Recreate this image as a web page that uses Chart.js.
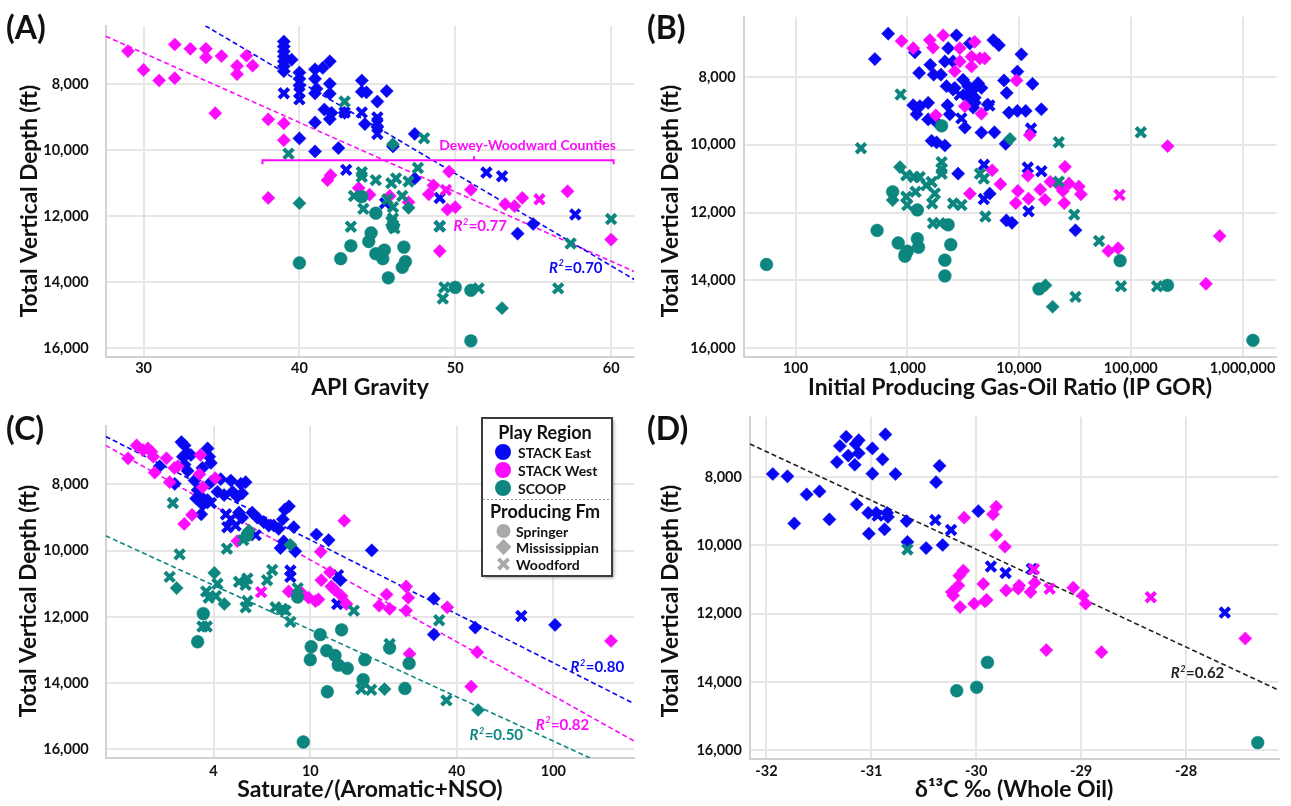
<!DOCTYPE html>
<html>
<head>
<meta charset="utf-8">
<script src="https://cdn.jsdelivr.net/npm/chart.js@4.4.1/dist/chart.umd.min.js"></script>
<style>
html,body{margin:0;padding:0;background:#fff;}
#wrap{position:relative;width:1291px;height:806px;overflow:hidden;background:#fff;}
canvas{position:absolute;display:block;}
</style>
</head>
<body>
<div id="wrap">
<canvas id="cA" width="645" height="400" style="left:0;top:0"></canvas>
<canvas id="cB" width="646" height="400" style="left:645px;top:0"></canvas>
<canvas id="cC" width="645" height="406" style="left:0;top:400px"></canvas>
<canvas id="cD" width="646" height="406" style="left:645px;top:400px"></canvas>
</div>
<script>
// ---------------- DATA ----------------
const REGIONS = ['STACK East','STACK West','SCOOP'];
const FORMATIONS = ['Springer','Mississippian','Woodford'];
const Y_TICKS = [8000,10000,12000,14000,16000];
const A_X_TICKS = [30,40,50,60];
const B_X_TICKS = [100,1000,10000,100000,1000000];
const C_X_TICKS = [4,10,40,100];
const D_X_TICKS = [-32,-31,-30,-29,-28];

// Panel A: API gravity vs depth
const A_EAST_MISS = [[39,6700],[39,6850],[39,7000],[39,7150],[39,7300],[39,7450],[39,7600],[39.5,7250],[40,7640],[40,7830],[40,8030],[41,7540],[41.5,7500],[41.95,7300],[41,7830],[41.1,8130],[41,8270],[41.95,7980],[41.95,8280],[41.6,8760],[42.06,8860],[41.95,9050],[41,9150],[40,9635],[41,10030],[42.5,9930],[42.9,8860],[44,7880],[44,8220],[44.3,8240],[45,8520],[45.6,8200],[44.2,9200],[45,9290],[47.4,9500],[46,9880],[47.4,10850],[54,12520],[55,12230]];
const A_EAST_WOOD = [[39,8270],[40,8250],[40,8450],[42.9,8850],[44,8850],[45,9000],[45,9150],[45,9500],[43,10590],[45.5,11600],[49,11440],[49,12300],[52,10670],[53,10780],[57.7,11940]];
const A_WEST_MISS = [[29,6990],[30,7560],[31,7880],[32,6790],[32,7810],[33,6920],[34,6920],[34,7180],[35,7140],[36,7440],[36,7690],[36.6,7130],[37,7430],[34.6,8870],[38,9060],[39,9180],[39,9690],[38,11440],[42,10750],[41.8,10900],[43.8,11140],[44.5,11340],[45.8,11380],[47,11570],[48.3,11330],[48.6,11060],[49.6,10640],[49.5,11790],[50,11720],[51,11190],[53.2,11630],[53.8,11690],[54.3,11440],[57.2,11240],[60,12700],[49,13050]];
const A_WEST_WOOD = [[49.4,11200],[55.4,11480]];
const A_SCOOP_SPR = [[44,11400],[44.9,11900],[46,12300],[44.6,12500],[44.45,12760],[43.3,12890],[42.65,13280],[44.9,13130],[45.45,13020],[45.35,13280],[46.7,12930],[46.8,13370],[46.6,13540],[45.7,13860],[40,13410],[50,14150],[51,14240],[51,15770]];
const A_SCOOP_MISS = [[40,11600],[47,11740],[53,14780],[46,9810]];
const A_SCOOP_WOOD = [[39.3,10100],[44,10660],[44,10800],[44.9,10900],[45.9,10990],[46.2,10850],[47,10940],[47.6,10530],[43.5,11380],[44.1,11770],[45.65,11480],[46,11720],[46.6,11380],[46,12060],[43.3,12310],[49.3,14150],[49.2,14490],[51.5,14180],[56.6,14180],[57.4,12820],[60,12080],[42.9,8520],[48,9630],[45.9,12160],[46.1,12360],[49,12300]];
const A_TREND_EAST = [[33.96,6220],[61.48,13910]];
const A_TREND_WEST = [[27.57,6540],[61.48,13670]];
const A_R2 = [{x:51.6,y:12280,v:'0.77',r:'STACK West'},{x:57.73,y:13540,v:'0.70',r:'STACK East'}];
const A_BRACKET = {from:37.63,to:60.16,mid:51.2,depth:10300,label:'Dewey-Woodward Counties',labelX:54.64,labelY:9864};

// Panel B: IP GOR vs depth
const B_EAST_MISS = [[675,6720],[513,7470],[1170,7270],[1607,7640],[1276,7880],[1722,7930],[2755,6770],[2323,7150],[2572,7540],[2170,7540],[3625,7010],[5888,6910],[6610,7060],[10500,7330],[9660,7840],[13200,8200],[7340,8100],[7760,8470],[15850,8950],[8130,9050],[9660,9000],[11480,9000],[1297,8860],[1538,8760],[1130,8830],[1211,9100],[1538,9250],[1830,9340],[2290,8830],[2400,9100],[3275,9490],[4610,9640],[3880,8900],[4020,8760],[5250,8810],[2244,8270],[2660,8320],[3160,8080],[3500,8270],[3880,8370],[4300,8180],[4610,8320],[3390,8560],[4020,8610],[2570,8370],[2000,7930],[6026,9630],[7590,9970],[1650,9880],[1830,9930],[2170,10020],[2850,10850],[5470,11440],[7710,12230],[8650,12300],[32000,12520]];
const B_EAST_WOOD = [[3050,9220],[3700,8700],[5430,8840],[12800,9520],[11970,10670],[15850,10780],[4860,10590],[4840,11600],[12170,11960],[2950,8520]];
const B_WEST_MISS = [[889,6940],[1130,7150],[1590,6910],[1700,7130],[2094,6770],[2950,7150],[4010,6960],[3757,7400],[4460,7450],[4930,7450],[2660,7830],[2950,7540],[3757,7690],[9500,8100],[3275,8860],[4610,9080],[1800,9130],[12470,9710],[213800,10040],[5750,10750],[6820,11160],[3630,11440],[9770,11360],[15500,11320],[12000,10910],[19050,11090],[22700,11190],[25800,10650],[28000,11140],[24700,11360],[34300,11230],[35800,11460],[25400,11720],[9350,11720],[12170,11590],[17060,11620],[63000,13130],[77000,13050],[625000,12690],[471000,14100]];
const B_WEST_WOOD = [[79400,11480]];
const B_SCOOP_SPR = [[55,13530],[537,12526],[830,12897],[961,13224],[1000,13139],[953,13285],[1230,12770],[1260,13022],[2450,12944],[2170,13402],[2170,13869],[2322,12360],[1230,11922],[740,11387],[80300,13418],[15100,14253],[213000,14146],[1240000,15768],[2030,9440]];
const B_SCOOP_MISS = [[8300,9826],[20000,14778],[17250,14146],[740,11630],[860,10657]];
const B_SCOOP_WOOD = [[871,8515],[385,10100],[123000,9631],[22700,9922],[980,10900],[1150,10950],[1290,10950],[1480,11190],[1650,11095],[2030,10510],[2030,10707],[2030,10853],[1187,11387],[980,11533],[1000,11776],[1765,11436],[1670,11729],[2570,11729],[3055,11776],[1700,12313],[1950,12313],[5000,12117],[4470,10853],[4840,10998],[81800,14175],[172000,14175],[32000,14486],[52000,12835],[31200,12059],[22700,11088]];

// Panel C: Saturate/(Aromatic+NSO) vs depth
const C_EAST_MISS = [[2.95,6720],[3.04,6820],[3.13,7060],[3.23,7110],[3.04,7400],[2.99,7160],[3.78,6910],[3.84,7160],[3.9,7350],[3.13,7590],[3.34,7880],[3.6,7500],[2.4,7450],[2.77,7980],[3.9,7930],[4.28,7840],[4.71,7880],[5.18,7980],[5.42,7930],[3.44,8170],[3.39,8420],[3.56,8370],[3.78,8470],[3.61,8610],[4.15,8220],[4.42,8320],[4.79,8220],[5.01,8370],[5.25,8270],[3.56,8900],[5.09,8850],[5.25,9000],[5.77,8850],[6.05,9000],[6.44,9140],[6.75,9240],[7.08,9240],[7.41,9340],[7.85,8760],[8.17,8660],[7.71,9050],[8.55,9290],[7.54,9920],[7.77,9720],[8.67,10020],[10.6,9510],[11.9,9680],[17.9,9990],[13.3,10890],[32.2,11450],[32.2,12530],[47.7,12320],[101.6,12240]];
const C_EAST_WOOD = [[3.9,8560],[4.5,8900],[4.71,9050],[4.56,9290],[4.93,9240],[5.96,9530],[8.28,10600],[8.28,10790],[13.0,10740],[12.9,11610],[73.8,11970]];
const C_WEST_MISS = [[1.78,7210],[1.93,6820],[2.05,6960],[2.15,6910],[2.22,7010],[2.26,7160],[2.29,7640],[2.56,7210],[2.64,7930],[2.76,7500],[2.85,7450],[3.03,9190],[3.26,8920],[3.5,7690],[3.53,7110],[4.06,7810],[3.61,8080],[5.01,9710],[8.15,11230],[8.81,11370],[9.23,11280],[9.84,11420],[10.5,11520],[10.8,11470],[11.04,10035],[11.1,10890],[12.2,11080],[12.6,11180],[12.05,10650],[13.45,11370],[14.1,11610],[13.8,9094],[19.2,11661],[20.6,11322],[21.2,11758],[24.8,11080],[25.3,11419],[24.8,11806],[25.6,13114],[36.6,11709],[48.6,13065],[45.9,14102],[172.6,12726]];
const C_WEST_WOOD = [[6.28,11250]];
const C_SCOOP_SPR = [[3.63,11900],[3.44,12750],[5.51,9530],[8.87,11400],[10.98,12535],[13.45,12390],[10.08,12900],[10.0,13290],[11.68,13020],[12.64,13165],[13.04,13456],[14.19,13552],[16.76,13291],[11.75,14259],[16.5,13893],[21.2,12939],[25.5,13404],[24.5,14160],[9.36,15777]];
const C_SCOOP_MISS = [[2.82,11130],[4.03,10670],[4.43,11610],[8.28,9820],[20.2,14180],[49,14810],[5.6,9390]];
const C_SCOOP_WOOD = [[2.72,8560],[2.9,10110],[2.64,10790],[3.73,11230],[4.15,11000],[4.09,11370],[3.82,11420],[3.6,12290],[3.75,12290],[4.54,9940],[5.09,10940],[5.51,10840],[5.42,11030],[5.42,11710],[5.51,11520],[6.64,10890],[6.97,10580],[7.19,11710],[7.66,11760],[7.91,11810],[8.28,12150],[8.87,11130],[15.1,11810],[21.2,12820],[16.2,14180],[17.8,14200],[33.9,12100],[36.3,14520],[5.3,9680]];
const C_TREND_EAST = [[1.44,6550],[215,14620]];
const C_TREND_WEST = [[1.44,6820],[215,15750]];
const C_TREND_SCOOP = [[1.44,9550],[141.6,16260]];
const C_R2 = [{x:151.7,y:13500,v:'0.80',r:'STACK East'},{x:109,y:15245,v:'0.82',r:'STACK West'},{x:58.2,y:15564,v:'0.50',r:'SCOOP'}];

// Panel D: d13C whole oil vs depth
const D_EAST_MISS = [[-31.94,7910],[-31.8,7980],[-31.735,9360],[-31.617,8510],[-31.494,8420],[-31.4,9240],[-31.328,7560],[-31.3,7090],[-31.24,6820],[-31.22,7370],[-31.158,7640],[-31.15,7030],[-31.12,6920],[-31.12,7300],[-30.99,7160],[-30.893,7480],[-30.866,6750],[-30.99,7900],[-30.77,7910],[-31.14,8800],[-31.03,9050],[-30.953,9050],[-30.85,9050],[-30.842,9170],[-30.874,9530],[-31.024,9660],[-30.664,9290],[-30.656,9900],[-30.478,10080],[-30.32,9990],[-30.35,7670],[-30.383,8150],[-29.98,9000]];
const D_EAST_WOOD = [[-30.39,9260],[-30.24,9550],[-29.86,10620],[-29.72,10810],[-29.47,10690],[-27.63,11970],[-30.94,9130]];
const D_WEST_MISS = [[-30.115,9190],[-29.81,8870],[-29.84,9090],[-29.81,9700],[-29.727,10040],[-30.123,10740],[-30.162,10890],[-30.17,11180],[-30.233,11370],[-30.22,11470],[-30.154,11810],[-30.02,11710],[-29.933,11130],[-29.917,11640],[-29.715,11320],[-29.6,11270],[-29.59,11180],[-29.482,11370],[-29.443,11100],[-29.075,11240],[-28.984,11470],[-28.957,11710],[-29.332,13070],[-28.806,13130],[-27.435,12730],[-29.9,11600]];
const D_WEST_WOOD = [[-29.3,11270],[-28.336,11520],[-29.45,10700]];
const D_SCOOP_SPR = [[-29.893,13430],[-30.186,14260],[-29.996,14160],[-27.316,15780]];
const D_SCOOP_WOOD = [[-30.656,10120]];
const D_TREND = [[-32.158,7030],[-27.118,14240]];
const D_R2 = [{x:-27.89,y:13740,v:'0.62',r:'all'}];

// ---------------- STYLE ----------------
const FAM = 'Lato, "Open Sans", "DejaVu Sans", sans-serif';
const COLORS = {'STACK East':'#0808f2','STACK West':'#fc0cfc','SCOOP':'#0c867f','all':'#222222'};
const LEG_GRAY = '#a9a9a9';
const GRID = '#e6e6e6', AXIS = '#d2d2d2', TXT = '#111';

function pts(a){ return a.map(p => ({x:p[0], y:p[1]})); }
function markers(arr, region, fm){
  const style = fm === 'Springer' ? 'circle' : fm === 'Mississippian' ? 'rectRot' : 'crossRot';
  const c = COLORS[region];
  const isX = style === 'crossRot';
  const r = style === 'circle' ? 6.4 : (isX ? 6.8 : 6.6);
  const ord = region === 'STACK East' ? 3 : region === 'STACK West' ? 2 : 1;
  return {label: region + ' ' + fm, data: pts(arr), pointStyle: style, pointRadius: r, pointHoverRadius: r,
    backgroundColor: c, borderColor: c, pointBackgroundColor: c, pointBorderColor: c,
    pointBorderWidth: isX ? 4 : 0.5, showLine: false, order: ord};
}
function trend(arr, region){
  return {label:'trend', data: pts(arr), showLine: true, borderColor: COLORS[region], borderWidth: 1.6,
    borderDash: [5,3], pointRadius: 0, pointHoverRadius: 0, fill: false, order: 10};
}

function drawR2(ctx, x, y, v, color){
  const fs = 15;
  ctx.save();
  ctx.fillStyle = color; ctx.textBaseline = 'alphabetic'; ctx.textAlign = 'left';
  const fR = `italic bold ${fs}px ${FAM}`, f2 = `italic bold ${Math.round(fs*0.62)}px ${FAM}`, fV = `bold ${fs}px ${FAM}`;
  ctx.font = fR; const wR = ctx.measureText('R').width;
  ctx.font = f2; const w2 = ctx.measureText('2').width;
  ctx.font = fV; const wV = ctx.measureText('=' + v).width;
  let cx = x - (wR + w2 + 1 + wV) / 2; const by = y + fs * 0.36;
  ctx.font = fR; ctx.fillText('R', cx, by); cx += wR + 0.5;
  ctx.font = f2; ctx.fillText('2', cx, by - fs * 0.42); cx += w2 + 0.5;
  ctx.font = fV; ctx.fillText('=' + v, cx, by);
  ctx.restore();
}

function panelPlugin(o){
  return {
    id: 'panel' + o.letter,
    afterDraw(chart){
      const ctx = chart.ctx;
      ctx.save();
      ctx.fillStyle = TXT;
      ctx.font = `bold 32px ${FAM}`;
      ctx.textAlign = 'left'; ctx.textBaseline = 'middle';
      ctx.fillText('(' + o.letter + ')', o.lx, o.ly);
      ctx.translate(o.tx, o.ty); ctx.rotate(-Math.PI / 2);
      ctx.font = `bold 22.5px ${FAM}`; ctx.textAlign = 'center';
      ctx.fillText('Total Vertical Depth (ft)', 0, 0);
      ctx.restore();
      const xs = chart.scales.x, ys = chart.scales.y;
      (o.r2 || []).forEach(d => drawR2(ctx, xs.getPixelForValue(d.x), ys.getPixelForValue(d.y), d.v, COLORS[d.r]));
      if (o.extra) o.extra(chart, ctx, xs, ys);
    }
  };
}

function drawBracket(chart, ctx, xs, ys){
  const b = A_BRACKET;
  const x0 = xs.getPixelForValue(b.from), x1 = xs.getPixelForValue(b.to), xm = xs.getPixelForValue(b.mid);
  const y = ys.getPixelForValue(b.depth);
  ctx.save();
  ctx.strokeStyle = COLORS['STACK West']; ctx.lineWidth = 2;
  ctx.beginPath();
  ctx.moveTo(x0, y + 4); ctx.lineTo(x0, y); ctx.lineTo(x1, y); ctx.lineTo(x1, y + 4);
  ctx.moveTo(xm, y); ctx.lineTo(xm, y - 4);
  ctx.stroke();
  ctx.fillStyle = COLORS['STACK West'];
  ctx.font = `bold 14px ${FAM}`; ctx.textAlign = 'center'; ctx.textBaseline = 'middle';
  ctx.fillText(b.label, xs.getPixelForValue(b.labelX), ys.getPixelForValue(b.labelY));
  ctx.restore();
}

function drawShape(ctx, shape, x, y, r, color){
  ctx.save();
  ctx.fillStyle = color; ctx.strokeStyle = color;
  ctx.beginPath();
  if (shape === 'circle'){ ctx.arc(x, y, r, 0, Math.PI * 2); ctx.fill(); }
  else if (shape === 'diamond'){ ctx.moveTo(x, y - r); ctx.lineTo(x + r, y); ctx.lineTo(x, y + r); ctx.lineTo(x - r, y); ctx.closePath(); ctx.fill(); }
  else { const d = r * 0.72; ctx.lineWidth = 4; ctx.moveTo(x - d, y - d); ctx.lineTo(x + d, y + d); ctx.moveTo(x + d, y - d); ctx.lineTo(x - d, y + d); ctx.stroke(); }
  ctx.restore();
}

function drawLegend(chart, ctx){
  const bx = 482, by = 18, bw = 130, bh = 158;
  ctx.save();
  ctx.shadowColor = 'rgba(0,0,0,0.35)'; ctx.shadowOffsetX = 2; ctx.shadowOffsetY = 2; ctx.shadowBlur = 3;
  ctx.fillStyle = '#fff'; ctx.fillRect(bx, by, bw, bh);
  ctx.shadowColor = 'transparent';
  ctx.strokeStyle = '#3c3c3c'; ctx.lineWidth = 2; ctx.strokeRect(bx, by, bw, bh);
  ctx.fillStyle = TXT; ctx.textBaseline = 'middle';
  ctx.font = `bold 18px ${FAM}`; ctx.textAlign = 'center';
  ctx.fillText('Play Region', 545, 33);
  ctx.fillText('Producing Fm', 545, 112);
  ctx.font = `bold 14px ${FAM}`; ctx.textAlign = 'left';
  const ry = [52, 70, 88];
  REGIONS.forEach((r, i) => { drawShape(ctx, 'circle', 503, ry[i], 8, COLORS[r]); ctx.fillStyle = TXT; ctx.fillText(r, 518, ry[i] + 1); });
  ctx.strokeStyle = '#9a9a9a'; ctx.lineWidth = 1; ctx.setLineDash([2,2]);
  ctx.beginPath(); ctx.moveTo(bx + 1, 99.5); ctx.lineTo(bx + bw - 1, 99.5); ctx.stroke(); ctx.setLineDash([]);
  const fy = [131, 147, 164], sh = ['circle','diamond','x'];
  FORMATIONS.forEach((f, i) => { drawShape(ctx, sh[i], 503.5, fy[i], i === 1 ? 8 : 7, LEG_GRAY); ctx.fillStyle = TXT; ctx.fillText(f, 516, fy[i] + 1); });
  ctx.restore();
}

function makeChart(id, o){
  const tickFont = {family: FAM, size: 14.5, weight: 'bold'};
  return new Chart(document.getElementById(id), {
    type: 'scatter',
    data: {datasets: o.datasets},
    options: {
      responsive: false, animation: false, devicePixelRatio: 1,
      layout: {padding: {left: 0, right: o.padRight, top: 13, bottom: 0}},
      plugins: {legend: {display: false}, tooltip: {enabled: false}},
      events: [],
      scales: {
        x: {type: o.xType, min: o.xMin, max: o.xMax, position: 'bottom',
          afterBuildTicks: s => { s.ticks = o.xTicks.map(v => ({value: v})); },
          afterFit: s => { s.height = o.xH; },
          ticks: {autoSkip: false, maxRotation: 0, minRotation: 0, padding: o.xTickPad, color: TXT, font: tickFont,
            callback: v => Number(v).toLocaleString('en-US')},
          grid: {color: GRID, lineWidth: 2, drawTicks: false},
          border: {color: AXIS, width: 2},
          title: {display: true, text: o.xTitle, color: TXT, font: {family: FAM, size: 23, weight: 'bold'}, padding: {top: 0, bottom: o.xTitlePad}}
        },
        y: {type: 'linear', reverse: true, min: o.yMin, max: o.yMax, position: 'left',
          afterBuildTicks: s => { s.ticks = Y_TICKS.map(v => ({value: v})); },
          afterFit: s => { s.width = o.yW; },
          ticks: {padding: o.yTickPad, color: TXT, font: tickFont, callback: v => Number(v).toLocaleString('en-US')},
          grid: {color: GRID, lineWidth: 2, drawTicks: false},
          border: {color: AXIS, width: 2},
          title: {display: false}
        }
      }
    },
    plugins: [o.plugin]
  });
}

// ---------------- CHARTS ----------------
makeChart('cA', {
  datasets: [
    trend(A_TREND_EAST, 'STACK East'), trend(A_TREND_WEST, 'STACK West'),
    markers(A_EAST_MISS, 'STACK East', 'Mississippian'), markers(A_EAST_WOOD, 'STACK East', 'Woodford'),
    markers(A_WEST_MISS, 'STACK West', 'Mississippian'), markers(A_WEST_WOOD, 'STACK West', 'Woodford'),
    markers(A_SCOOP_SPR, 'SCOOP', 'Springer'), markers(A_SCOOP_MISS, 'SCOOP', 'Mississippian'), markers(A_SCOOP_WOOD, 'SCOOP', 'Woodford')
  ],
  xType: 'linear', xMin: 27.57, xMax: 61.48, xTicks: A_X_TICKS, xTitle: 'API Gravity',
  xH: 43, xTickPad: 3, xTitlePad: -1, yMin: 6220, yMax: 16260, yW: 105.7, yTickPad: 17, padRight: 6.5,
  plugin: panelPlugin({letter: 'A', lx: 6, ly: 29, tx: 30, ty: 201, r2: A_R2, extra: drawBracket})
});

makeChart('cB', {
  datasets: [
    markers(B_EAST_MISS, 'STACK East', 'Mississippian'), markers(B_EAST_WOOD, 'STACK East', 'Woodford'),
    markers(B_WEST_MISS, 'STACK West', 'Mississippian'), markers(B_WEST_WOOD, 'STACK West', 'Woodford'),
    markers(B_SCOOP_SPR, 'SCOOP', 'Springer'), markers(B_SCOOP_MISS, 'SCOOP', 'Mississippian'), markers(B_SCOOP_WOOD, 'SCOOP', 'Woodford')
  ],
  xType: 'logarithmic', xMin: 34.3, xMax: 2010000, xTicks: B_X_TICKS, xTitle: 'Initial Producing Gas-Oil Ratio (IP GOR)',
  xH: 43, xTickPad: 3, xTitlePad: -1, yMin: 6220, yMax: 16260, yW: 98.6, yTickPad: 8, padRight: 14.6,
  plugin: panelPlugin({letter: 'B', lx: 2, ly: 29, tx: 26, ty: 201})
});

makeChart('cC', {
  datasets: [
    trend(C_TREND_EAST, 'STACK East'), trend(C_TREND_WEST, 'STACK West'), trend(C_TREND_SCOOP, 'SCOOP'),
    markers(C_EAST_MISS, 'STACK East', 'Mississippian'), markers(C_EAST_WOOD, 'STACK East', 'Woodford'),
    markers(C_WEST_MISS, 'STACK West', 'Mississippian'), markers(C_WEST_WOOD, 'STACK West', 'Woodford'),
    markers(C_SCOOP_SPR, 'SCOOP', 'Springer'), markers(C_SCOOP_MISS, 'SCOOP', 'Mississippian'), markers(C_SCOOP_WOOD, 'SCOOP', 'Woodford')
  ],
  xType: 'logarithmic', xMin: 1.44, xMax: 215, xTicks: C_X_TICKS, xTitle: 'Saturate/(Aromatic+NSO)',
  xH: 48, xTickPad: 4.5, xTitlePad: 3, yMin: 6225, yMax: 16260, yW: 105.7, yTickPad: 17, padRight: 6.5,
  plugin: panelPlugin({letter: 'C', lx: 6, ly: 30, tx: 29, ty: 201, r2: C_R2, extra: drawLegend})
});

makeChart('cD', {
  datasets: [
    trend(D_TREND, 'all'),
    markers(D_EAST_MISS, 'STACK East', 'Mississippian'), markers(D_EAST_WOOD, 'STACK East', 'Woodford'),
    markers(D_WEST_MISS, 'STACK West', 'Mississippian'), markers(D_WEST_WOOD, 'STACK West', 'Woodford'),
    markers(D_SCOOP_SPR, 'SCOOP', 'Springer'), markers(D_SCOOP_WOOD, 'SCOOP', 'Woodford')
  ],
  xType: 'linear', xMin: -32.158, xMax: -27.118, xTicks: D_X_TICKS, xTitle: 'δ¹³C ‰ (Whole Oil)',
  xH: 47, xTickPad: 3.5, xTitlePad: 3, yMin: 6232, yMax: 16260, yW: 104.9, yTickPad: 8, padRight: 12.5,
  plugin: panelPlugin({letter: 'D', lx: 2, ly: 30, tx: 26, ty: 201, r2: D_R2})
});
</script>
</body>
</html>
